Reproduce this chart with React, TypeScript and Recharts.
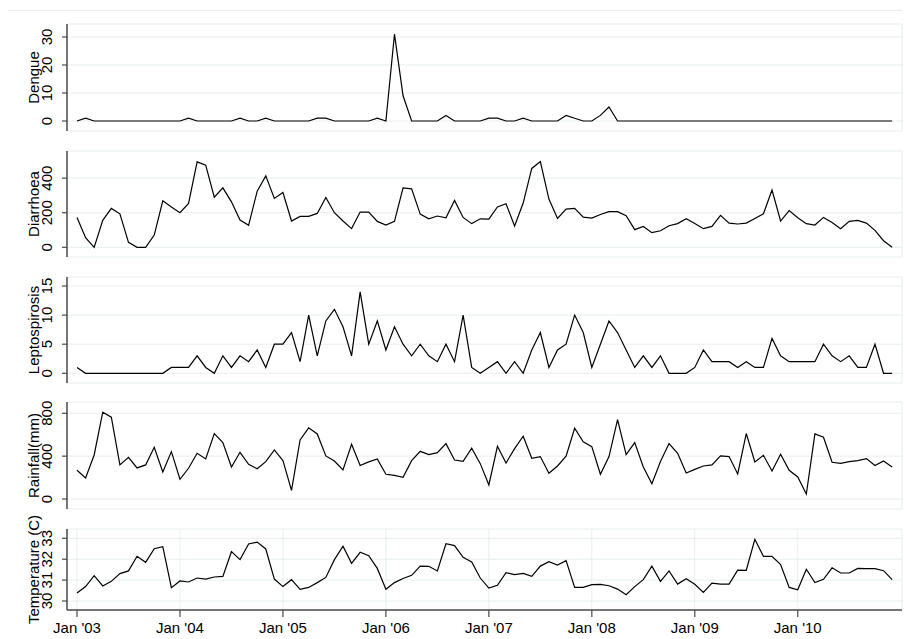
import React from "react";
import { LineChart, Line, XAxis, YAxis, CartesianGrid } from "recharts";

// Monthly series, Jan 2003 .. Dec 2010 (96 months)
const dengue = [
  0, 1, 0, 0, 0, 0, 0, 0, 0, 0, 0, 0,
  0, 1, 0, 0, 0, 0, 0, 1, 0, 0, 1, 0,
  0, 0, 0, 0, 1, 1, 0, 0, 0, 0, 0, 1,
  0, 31, 9, 0, 0, 0, 0, 2, 0, 0, 0, 0,
  1, 1, 0, 0, 1, 0, 0, 0, 0, 2, 1, 0,
  0, 2, 5, 0, 0, 0, 0, 0, 0, 0, 0, 0,
  0, 0, 0, 0, 0, 0, 0, 0, 0, 0, 0, 0,
  0, 0, 0, 0, 0, 0, 0, 0, 0, 0, 0, 0,
];
const diarrhoea = [
  173, 56, 0, 156, 225, 194, 29, 0, 0, 71, 269, 233,
  200, 254, 494, 475, 290, 344, 263, 158, 127, 325, 413, 283,
  317, 152, 179, 179, 196, 288, 200, 152, 108, 204, 204, 150,
  129, 150, 344, 338, 192, 165, 181, 171, 271, 173, 137, 165,
  163, 233, 252, 123, 256, 456, 496, 279, 167, 221, 225, 175,
  169, 190, 206, 206, 183, 102, 121, 85, 96, 125, 137, 165,
  138, 108, 121, 185, 140, 135, 140, 167, 194, 331, 152, 212,
  171, 137, 129, 173, 144, 108, 150, 156, 140, 98, 38, 0,
];
const leptospirosis = [
  1, 0, 0, 0, 0, 0, 0, 0, 0, 0, 0, 1,
  1, 1, 3, 1, 0, 3, 1, 3, 2, 4, 1, 5,
  5, 7, 2, 10, 3, 9, 11, 8, 3, 14, 5, 9,
  4, 8, 5, 3, 5, 3, 2, 5, 2, 10, 1, 0,
  1, 2, 0, 2, 0, 4, 7, 1, 4, 5, 10, 7,
  1, 5, 9, 7, 4, 1, 3, 1, 3, 0, 0, 0,
  1, 4, 2, 2, 2, 1, 2, 1, 1, 6, 3, 2,
  2, 2, 2, 5, 3, 2, 3, 1, 1, 5, 0, 0,
];
const rainfall = [
  268, 196, 411, 810, 763, 318, 389, 290, 318, 483, 252, 442,
  184, 287, 427, 374, 611, 526, 299, 436, 324, 283, 349, 458,
  358, 81, 551, 664, 607, 402, 355, 271, 511, 312, 346, 374,
  231, 221, 202, 358, 445, 414, 433, 517, 364, 352, 474, 330,
  131, 492, 336, 470, 586, 380, 396, 240, 308, 399, 660, 533,
  489, 231, 396, 741, 414, 526, 299, 143, 349, 517, 427, 243,
  277, 308, 318, 402, 396, 234, 611, 346, 408, 262, 417, 268,
  206, 47, 607, 576, 343, 333, 349, 358, 377, 312, 355, 299,
];
const temperature = [
  30.38, 30.69, 31.21, 30.72, 30.94, 31.31, 31.44, 32.14, 31.85, 32.5, 32.6, 30.64,
  30.96, 30.91, 31.1, 31.05, 31.15, 31.18, 32.36, 31.98, 32.73, 32.82, 32.49, 31.05,
  30.69, 31.02, 30.56, 30.65, 30.88, 31.13, 31.98, 32.62, 31.8, 32.33, 32.17, 31.56,
  30.56, 30.88, 31.08, 31.23, 31.67, 31.66, 31.44, 32.74, 32.65, 32.09, 31.87, 31.1,
  30.62, 30.75, 31.36, 31.26, 31.32, 31.18, 31.67, 31.88, 31.72, 31.93, 30.65, 30.65,
  30.78, 30.8, 30.73, 30.57, 30.3, 30.69, 31.02, 31.67, 30.94, 31.44, 30.81, 31.07,
  30.8, 30.41, 30.86, 30.81, 30.81, 31.48, 31.47, 32.95, 32.14, 32.14, 31.74, 30.65,
  30.54, 31.52, 30.88, 31.04, 31.59, 31.34, 31.34, 31.56, 31.55, 31.55, 31.45, 31.02,
];

const xTickMonths = [0, 12, 24, 36, 48, 60, 72, 84];
const xTickLabels = ["Jan '03", "Jan '04", "Jan '05", "Jan '06", "Jan '07", "Jan '08", "Jan '09", "Jan '10"];

const data = dengue.map((_, i) => ({
  i,
  dengue: dengue[i],
  diarrhoea: diarrhoea[i],
  leptospirosis: leptospirosis[i],
  rainfall: rainfall[i],
  temperature: temperature[i],
}));

const FONT = "'Liberation Sans', Arial, Helvetica, sans-serif";
const AXIS = "#4a4a4a";
const GRID = "#e6eef0";

type Panel = {
  key: string;
  title: string;
  top: number;
  height: number;
  domain: [number, number];
  ticks: number[];
};

const panels: Panel[] = [
  { key: "dengue", title: "Dengue", top: 24, height: 107, domain: [-3.57, 34.64], ticks: [0, 10, 20, 30] },
  { key: "diarrhoea", title: "Diarrhoea", top: 151, height: 106, domain: [-56, 557], ticks: [0, 200, 400] },
  { key: "leptospirosis", title: "Leptospirosis", top: 277, height: 106, domain: [-1.67, 16.55], ticks: [0, 5, 10, 15] },
  { key: "rainfall", title: "Rainfall(mm)", top: 402, height: 107, domain: [-93, 905], ticks: [0, 400, 800] },
  { key: "temperature", title: "Temperature (C)", top: 529, height: 81, domain: [29.57, 33.445], ticks: [30, 31, 32, 33] },
];

const YTick = (props: any) => {
  const { x, y, payload } = props;
  return (
    <text
      x={x}
      y={y}
      transform={`rotate(-90 ${x} ${y})`}
      textAnchor="middle"
      fontSize={15}
      fontFamily={FONT}
      fill="#000"
    >
      {payload.value}
    </text>
  );
};

const XTick = (props: any) => {
  const { x, y, payload } = props;
  const idx = xTickMonths.indexOf(payload.value);
  return (
    <text x={x} y={y} dy="0.71em" textAnchor="middle" fontSize={15} fontFamily={FONT} fill="#000">
      {idx >= 0 ? xTickLabels[idx] : ""}
    </text>
  );
};

const PAD_TOP = 20;
const PAD_BOTTOM = 5;
const XAXIS_H = 29;

export default function App() {
  return (
    <div
      style={{
        position: "absolute",
        left: 0,
        top: 0,
        width: 904,
        height: 639,
        background: "#fff",
        overflow: "hidden",
      }}
    >
      <div
        style={{
          position: "absolute",
          left: 8,
          top: 10,
          width: 894,
          height: 0,
          borderTop: "1px solid #e8eef0",
        }}
      />
      {panels.map((p, pi) => {
        const last = pi === panels.length - 1;
        const chartH = p.height + PAD_TOP + PAD_BOTTOM + (last ? XAXIS_H : 0);
        const titleX = 38.5;
        return (
          <div key={p.key} style={{ position: "absolute", left: 0, top: p.top - PAD_TOP }}>
            <LineChart
              width={904}
              height={chartH}
              data={data}
              margin={{ top: PAD_TOP, right: 2, bottom: PAD_BOTTOM, left: 0 }}
            >
              <CartesianGrid stroke={GRID} strokeWidth={1} />
              <XAxis
                dataKey="i"
                type="number"
                domain={[-1.166, 96.15]}
                ticks={xTickMonths}
                interval={0}
                height={last ? XAXIS_H : 0}
                tick={last ? <XTick /> : false}
                tickLine={last ? { stroke: AXIS, strokeWidth: 1.2 } : false}
                tickSize={7}
                tickMargin={5}
                axisLine={{ stroke: AXIS, strokeWidth: 1.5 }}
              />
              <YAxis
                type="number"
                domain={p.domain}
                ticks={p.ticks}
                interval={0}
                width={67}
                tick={<YTick />}
                tickSize={5}
                tickMargin={9.5}
                tickLine={{ stroke: AXIS, strokeWidth: 1.2 }}
                axisLine={{ stroke: AXIS, strokeWidth: 1.5 }}
                label={{
                  value: p.title,
                  content: (lp: any) => {
                    const vb = lp && lp.viewBox;
                    const cy = vb && typeof vb.y === "number" ? vb.y + vb.height / 2 : PAD_TOP + p.height / 2;
                    return (
                      <text
                        x={titleX}
                        y={cy}
                        transform={`rotate(-90 ${titleX} ${cy})`}
                        textAnchor="middle"
                        fontSize={15}
                        fontFamily={FONT}
                        fill="#000"
                      >
                        {p.title}
                      </text>
                    );
                  },
                }}
              />
              <Line
                type="linear"
                dataKey={p.key}
                stroke="#000"
                strokeWidth={1.2}
                dot={false}
                activeDot={false}
                isAnimationActive={false}
              />
            </LineChart>
          </div>
        );
      })}
    </div>
  );
}
